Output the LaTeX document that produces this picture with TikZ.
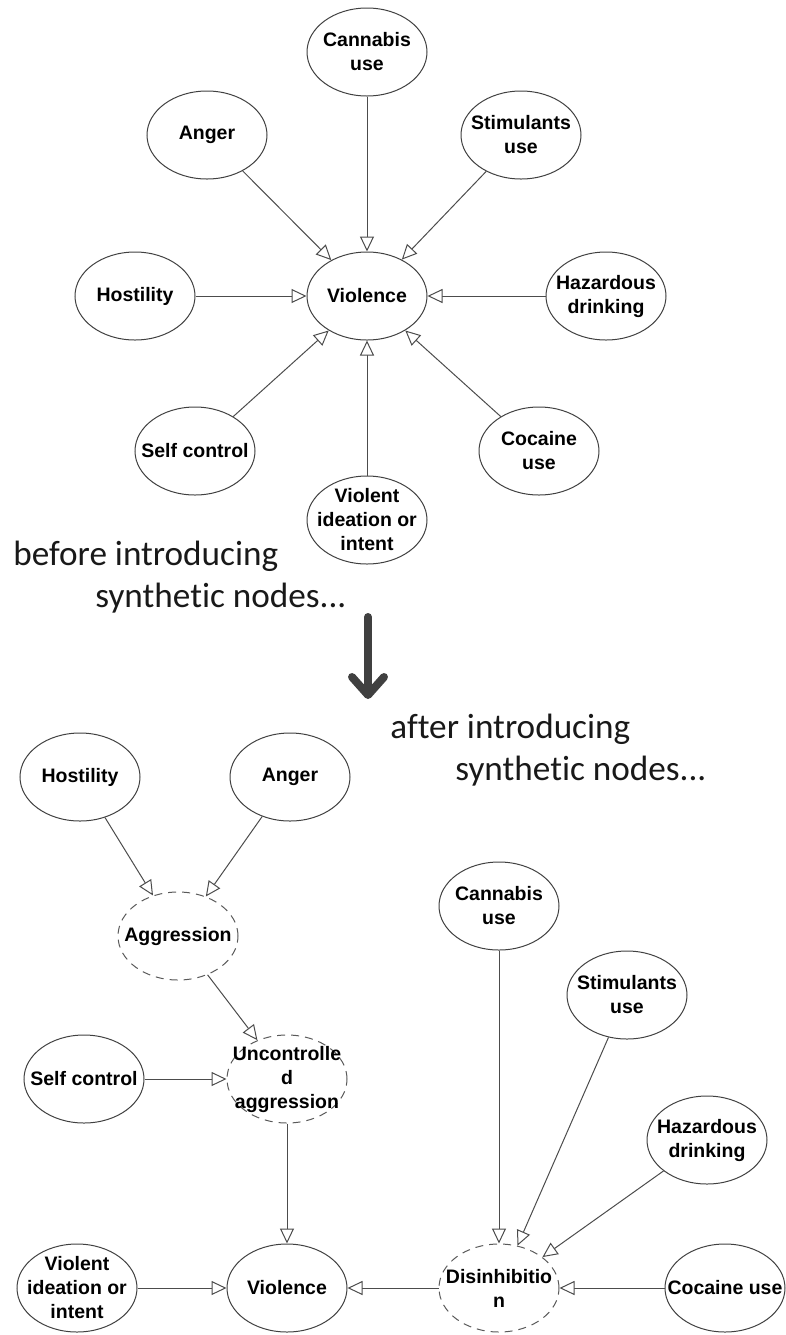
\documentclass[tikz,border=0pt]{standalone}
\usepackage{fontspec}
\setmainfont{Liberation Sans}
\newfontfamily\capfont[Ligatures=NoCommon]{Carlito}
\usetikzlibrary{arrows.meta,shapes.geometric}

\tikzset{
  ent/.style={ellipse,draw=black!75,line width=0.5pt,minimum width=60pt,minimum height=44pt,inner sep=0pt},
  synth/.style={ent,dashed,dash pattern=on 4pt off 3pt,draw=black!65},
  link/.style={draw=black!70,line width=0.5pt,-{Triangle[fill=white,length=7.5pt,width=7pt]}},
  caption/.style={font=\capfont\fontsize{17.6}{21}\selectfont,text=black!90,inner sep=0pt,anchor=base west},
  bigarrow/.style={draw=black!75,line width=4pt,line cap=round,-{Straight Barb[round,length=9pt,width=16pt]}}
}

\begin{document}
\begin{tikzpicture}[x=0.5pt,y=-0.5pt,
  every label/.append style={align=center,inner sep=0pt,font=\bfseries\fontsize{9.75}{12}\selectfont}]
\useasboundingbox (0,0) rectangle (786,1335);
% before
\node (cannT) at (367,52)  [ent,label={center:{Cannabis\\use}}] {};
\node (stimT) at (521,135) [ent,label={center:{Stimulants\\use}}] {};
\node (angT)  at (207,135) [ent,label={center:Anger}] {};
\node (hostT) at (135,296) [ent,label={center:Hostility}] {};
\node (violT) at (367,296) [ent,label={center:Violence}] {};
\node (hazT)  at (606,296) [ent,label={center:{Hazardous\\drinking}}] {};
\node (selfT) at (195,451) [ent,label={center:Self control}] {};
\node (cocT)  at (539,451) [ent,label={center:{Cocaine\\use}}] {};
\node (ideaT) at (367,520) [ent,label={center:{Violent\\ideation or\\intent}}] {};
\draw [link] (cannT) -- (violT);
\draw [link] (stimT) -- (violT);
\draw [link] (angT)  -- (violT);
\draw [link] (hostT) -- (violT);
\draw [link] (hazT)  -- (violT);
\draw [link] (selfT) -- (violT);
\draw [link] (cocT)  -- (violT);
\draw [link] (ideaT) -- (violT);
\node (beforeA) at (13,565) [caption] {before introducing};
\node (beforeB) at (95,607) [caption] {synthetic nodes...};
\coordinate (arrTop) at (368,617);
\coordinate (arrTip) at (368,699);
\draw [bigarrow] (arrTop) -- (arrTip);
\node (afterA) at (390,738) [caption] {after introducing};
\node (afterB) at (455,780) [caption] {synthetic nodes...};
% after
\node (hostB)  at (80,777)   [ent,label={center:Hostility}] {};
\node (angB)   at (290,777)  [ent,label={center:Anger}] {};
\node (aggr)   at (178,936)  [synth,label={center:Aggression}] {};
\node (unctrl) at (287,1079) [synth,label={center:{Uncontrolle\\d\\aggression}}] {};
\node (selfB)  at (84,1079)  [ent,label={center:Self control}] {};
\node (ideaB)  at (77,1288)  [ent,label={center:{Violent\\ideation or\\intent}}] {};
\node (violB)  at (287,1288) [ent,label={center:Violence}] {};
\node (disinh) at (499,1288) [synth,label={center:{Disinhibitio\\n}}] {};
\node (cocB)   at (725,1288) [ent,label={center:Cocaine use}] {};
\node (hazB)   at (707,1140) [ent,label={center:{Hazardous\\drinking}}] {};
\node (stimB)  at (627,995)  [ent,label={center:{Stimulants\\use}}] {};
\node (cannB)  at (499,906)  [ent,label={center:{Cannabis\\use}}] {};
\draw [link] (hostB)  -- (aggr);
\draw [link] (angB)   -- (aggr);
\draw [link] (aggr)   -- (unctrl);
\draw [link] (selfB)  -- (unctrl);
\draw [link] (unctrl) -- (violB);
\draw [link] (ideaB)  -- (violB);
\draw [link] (disinh) -- (violB);
\draw [link] (cannB)  -- (disinh);
\draw [link] (stimB)  -- (disinh);
\draw [link] (hazB)   -- (disinh);
\draw [link] (cocB)   -- (disinh);
\end{tikzpicture}
\end{document}
